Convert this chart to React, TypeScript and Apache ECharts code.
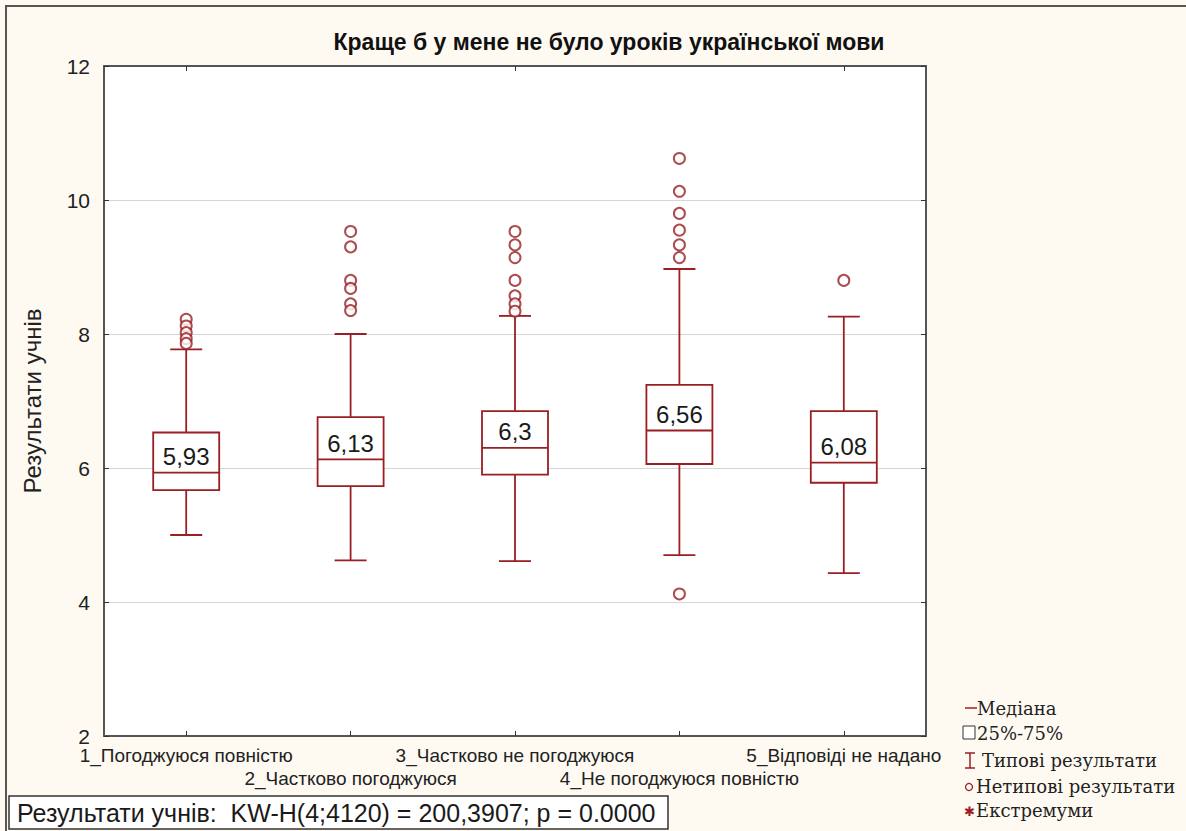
import React, { useEffect, useRef } from "react";
import * as echarts from "echarts";

const title = "Краще б у мене не було уроків української мови";
const yAxisName = "Результати учнів";
const categories = [
  "1_Погоджуюся повністю",
  "2_Частково погоджуюся",
  "3_Частково не погоджуюся",
  "4_Не погоджуюся повністю",
  "5_Відповіді не надано",
];
const whiskerLow = [5.0, 4.62, 4.61, 4.7, 4.43];
const q1 = [5.67, 5.73, 5.9, 6.06, 5.78];
const medians = [5.93, 6.13, 6.3, 6.56, 6.08];
const q3 = [6.53, 6.76, 6.85, 7.24, 6.85];
const whiskerHigh = [7.77, 8.0, 8.27, 8.97, 8.26];
const outliers: [number, number][] = [
  [0, 8.22], [0, 8.12], [0, 8.02], [0, 7.93], [0, 7.86],
  [1, 9.53], [1, 9.3], [1, 8.8], [1, 8.68], [1, 8.45], [1, 8.35],
  [2, 9.53], [2, 9.33], [2, 9.14], [2, 8.8], [2, 8.57], [2, 8.45], [2, 8.34],
  [3, 10.62], [3, 10.13], [3, 9.8], [3, 9.55], [3, 9.33], [3, 9.14], [3, 4.12],
  [4, 8.8],
];
const yTicks = { min: 2, max: 12, interval: 2 };
const statText = "Результати учнів:  KW-H(4;4120) = 200,3907; p = 0.0000";
const legendLabels = ["Медіана", "25%-75%", "Типові результати", "Нетипові результати", "Екстремуми"];

const RED = "#991f24";
const SANS = "'Liberation Sans', Arial, sans-serif";
const SERIF = "'DejaVu Serif', 'Liberation Serif', serif";

export default function App() {
  const ref = useRef<HTMLDivElement>(null);
  useEffect(() => {
    document.body.style.margin = "0";
    if (!ref.current) return;
    const chart = echarts.init(ref.current, undefined, { renderer: "svg" });
    const boxData = categories.map((_, i) => [i, whiskerLow[i], q1[i], medians[i], q3[i], whiskerHigh[i]]);
    const lw = 1.8;
    const legendX = 965;
    const legendRows = [708, 733, 760, 786, 810];
    const option: any = {
      animation: false,
      backgroundColor: "#fefaf2",
      title: {
        text: title,
        left: 604,
        top: 25,
        textAlign: "center",
        textStyle: { fontFamily: SANS, fontSize: 23, fontWeight: "bold", color: "#111" },
      },
      grid: { left: 104, top: 66, width: 822, height: 670, show: true, backgroundColor: "#ffffff", borderWidth: 0 },
      xAxis: [
        {
          type: "category",
          data: categories,
          position: "bottom",
          axisLine: { show: true, lineStyle: { color: "#555", width: 2 } },
          axisTick: { show: true, inside: true, alignWithLabel: true, length: 5, lineStyle: { color: "#333" } },
          axisLabel: {
            interval: 0,
            margin: 8,
            fontFamily: SANS,
            fontSize: 19,
            color: "#222",
            lineHeight: 23,
            formatter: (v: string, i: number) => (i % 2 === 1 ? "\n" + v : v),
          },
          splitLine: { show: false },
        },
        {
          type: "category",
          data: categories,
          position: "top",
          axisLine: { show: true, lineStyle: { color: "#555", width: 2 } },
          axisTick: { show: true, inside: true, alignWithLabel: true, length: 5, lineStyle: { color: "#333" } },
          axisLabel: { show: false },
          splitLine: { show: false },
        },
      ],
      yAxis: [
        {
          type: "value",
          min: yTicks.min,
          max: yTicks.max,
          interval: yTicks.interval,
          name: yAxisName,
          nameLocation: "middle",
          nameGap: 60,
          nameTextStyle: { fontFamily: SANS, fontSize: 24, color: "#222" },
          axisLine: { show: true, lineStyle: { color: "#555", width: 2 } },
          axisTick: { show: true, inside: true, length: 5, lineStyle: { color: "#333" } },
          axisLabel: { margin: 14, fontFamily: SANS, fontSize: 21, lineHeight: 15, color: "#222" },
          splitLine: { show: true, lineStyle: { color: "#d6d6d6", width: 1.2 } },
        },
        {
          type: "value",
          position: "right",
          min: yTicks.min,
          max: yTicks.max,
          interval: yTicks.interval,
          axisLine: { show: true, lineStyle: { color: "#555", width: 2 } },
          axisTick: { show: true, inside: true, length: 5, lineStyle: { color: "#333" } },
          axisLabel: { show: false },
          splitLine: { show: false },
        },
      ],
      series: [
        {
          type: "custom",
          name: "boxes",
          xAxisIndex: 0,
          yAxisIndex: 0,
          data: boxData,
          encode: { x: 0, y: [1, 2, 3, 4, 5] },
          z: 5,
          renderItem: (params: any, api: any) => {
            const idx = api.value(0);
            const c = (v: number) => api.coord([idx, v]);
            const pLow = c(api.value(1));
            const pQ1 = c(api.value(2));
            const pMed = c(api.value(3));
            const pQ3 = c(api.value(4));
            const pHigh = c(api.value(5));
            const cx = pMed[0];
            const bw = 66;
            const cw = 32;
            const st = { stroke: RED, lineWidth: lw, fill: "none" };
            const med = api.value(3);
            return {
              type: "group",
              children: [
                { type: "line", shape: { x1: cx, y1: pHigh[1], x2: cx, y2: pQ3[1] }, style: st },
                { type: "line", shape: { x1: cx, y1: pQ1[1], x2: cx, y2: pLow[1] }, style: st },
                { type: "line", shape: { x1: cx - cw / 2, y1: pHigh[1], x2: cx + cw / 2, y2: pHigh[1] }, style: st },
                { type: "line", shape: { x1: cx - cw / 2, y1: pLow[1], x2: cx + cw / 2, y2: pLow[1] }, style: st },
                {
                  type: "rect",
                  shape: { x: cx - bw / 2, y: pQ3[1], width: bw, height: pQ1[1] - pQ3[1] },
                  style: { stroke: RED, lineWidth: lw, fill: "#ffffff" },
                },
                { type: "line", shape: { x1: cx - bw / 2, y1: pMed[1], x2: cx + bw / 2, y2: pMed[1] }, style: st },
                {
                  type: "text",
                  x: cx,
                  y: pMed[1] - 4,
                  style: {
                    text: String(med).replace(".", ","),
                    textAlign: "center",
                    textVerticalAlign: "bottom",
                    font: "24px " + SANS,
                    fill: "#1a1a1a",
                  },
                },
              ],
            };
          },
        },
        {
          type: "scatter",
          name: "outliers",
          xAxisIndex: 0,
          yAxisIndex: 0,
          data: outliers,
          symbol: "emptyCircle",
          symbolSize: 11,
          itemStyle: { color: RED, borderColor: RED, borderWidth: 1.5 },
          z: 6,
        },
      ],
      graphic: [
        {
          type: "rect",
          shape: { x: 6, y: 6, width: 1200, height: 850 },
          style: { fill: "none", stroke: "#555", lineWidth: 2 },
          silent: true,
        },
        {
          type: "rect",
          shape: { x: 9, y: 796, width: 659, height: 33 },
          style: { fill: "#ffffff", stroke: "#333", lineWidth: 1.5 },
        },
        {
          type: "text",
          x: 17,
          y: 813,
          style: { text: statText, font: "25px " + SANS, fill: "#1a1a1a", textVerticalAlign: "middle" },
        },
        // legend symbols
        { type: "line", shape: { x1: legendX, y1: legendRows[0], x2: legendX + 12, y2: legendRows[0] }, style: { stroke: RED, lineWidth: 1.5 } },
        { type: "rect", shape: { x: legendX - 2, y: legendRows[1] - 7, width: 12, height: 13 }, style: { fill: "#fff", stroke: "#333", lineWidth: 1 } },
        { type: "line", shape: { x1: legendX + 5, y1: legendRows[2] - 7, x2: legendX + 5, y2: legendRows[2] + 8 }, style: { stroke: RED, lineWidth: 1.5 } },
        { type: "line", shape: { x1: legendX, y1: legendRows[2] - 7, x2: legendX + 10, y2: legendRows[2] - 7 }, style: { stroke: RED, lineWidth: 1.5 } },
        { type: "line", shape: { x1: legendX, y1: legendRows[2] + 8, x2: legendX + 10, y2: legendRows[2] + 8 }, style: { stroke: RED, lineWidth: 1.5 } },
        { type: "circle", shape: { cx: legendX + 4, cy: legendRows[3] + 1, r: 3.5 }, style: { fill: "none", stroke: RED, lineWidth: 1.3 } },
        {
          type: "text",
          x: legendX + 4,
          y: legendRows[4] + 1,
          style: { text: "✱", font: "13px " + SANS, fill: RED, textAlign: "center", textVerticalAlign: "middle" },
        },
        ...legendLabels.map((t, i) => ({
          type: "text",
          x: [977, 977, 982, 976, 976][i],
          y: legendRows[i],
          style: { text: t, font: "18px " + SERIF, fill: "#222", textVerticalAlign: "middle" },
        })),
      ],
    };
    chart.setOption(option);
    return () => chart.dispose();
  }, []);
  return <div ref={ref} style={{ width: 1186, height: 831 }} />;
}
